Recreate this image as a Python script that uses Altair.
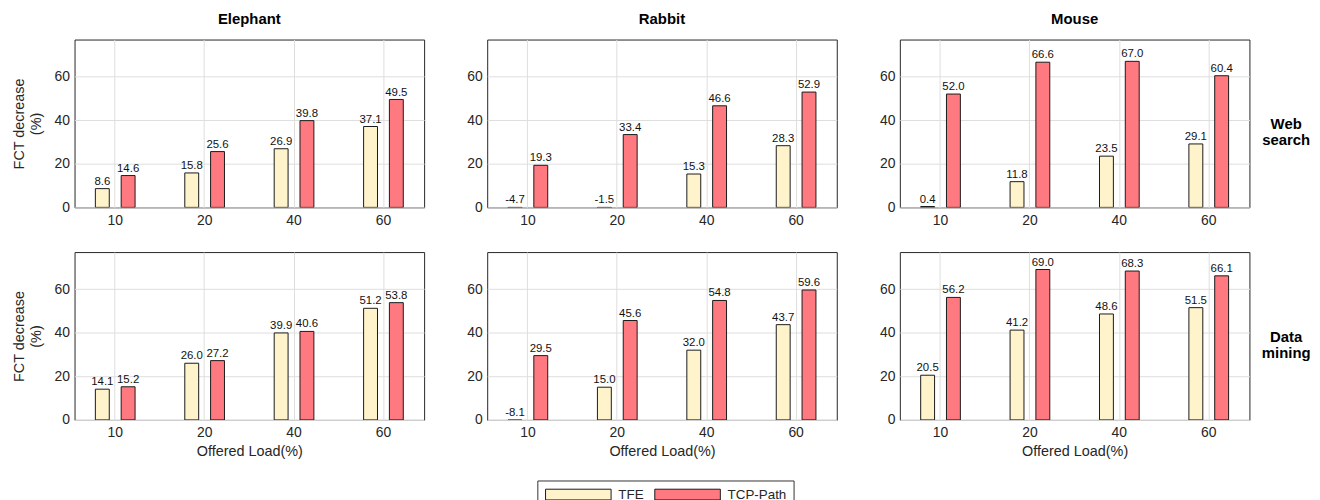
import altair as alt
import pandas as pd

datasets = ["Elephant", "Rabbit", "Mouse"]
workloads = ["Web search", "Data mining"]
loads = ["10", "20", "40", "60"]
methods = ["TFE", "TCP-Path"]

# Web search
web_tfe = {"Elephant": [8.6, 15.8, 26.9, 37.1], "Rabbit": [-4.7, -1.5, 15.3, 28.3], "Mouse": [0.4, 11.8, 23.5, 29.1]}
web_tcp = {"Elephant": [14.6, 25.6, 39.8, 49.5], "Rabbit": [19.3, 33.4, 46.6, 52.9], "Mouse": [52.0, 66.6, 67.0, 60.4]}
# Data mining
dm_tfe = {"Elephant": [14.1, 26.0, 39.9, 51.2], "Rabbit": [-8.1, 15.0, 32.0, 43.7], "Mouse": [20.5, 41.2, 48.6, 51.5]}
dm_tcp = {"Elephant": [15.2, 27.2, 40.6, 53.8], "Rabbit": [29.5, 45.6, 54.8, 59.6], "Mouse": [56.2, 69.0, 68.3, 66.1]}

colors = ["#FFF3CB", "#FF7A80"]
FONT = "Liberation Sans"
W, H = 352, 169
TXT = "#262626"

series = {"Web search": (web_tfe, web_tcp), "Data mining": (dm_tfe, dm_tcp)}


def panel(ds, wl, row, col):
    tfe, tcp = series[wl]
    rows = []
    for i, l in enumerate(loads):
        rows.append({"load": l, "method": "TFE", "value": tfe[ds][i]})
        rows.append({"load": l, "method": "TCP-Path", "value": tcp[ds][i]})
    df = pd.DataFrame(rows)
    base = alt.Chart(df).transform_calculate(
        ypos="max(datum.value, 0)",
        lab="replace(format(datum.value, '.1f'), '\u2212', '-')",
    )
    x = alt.X(
        "load:N",
        sort=loads,
        scale=alt.Scale(paddingInner=0.556, paddingOuter=0.233),
        axis=alt.Axis(
            title="Offered Load(%)" if row == 1 else None,
            labelAngle=0,
            ticks=False,
            domain=False,
            grid=True,
            bandPosition=0.5,
            labelPadding=6,
            labelFontSize=14,
            labelColor=TXT,
            titleFontSize=14.5,
            titleFontWeight="normal",
            titleColor=TXT,
            titlePadding=3,
            gridColor="#dedede",
            minExtent=22,
            maxExtent=22,
        ),
    )
    xo = alt.XOffset("method:N", sort=methods, scale=alt.Scale(domain=methods, paddingInner=0.4615, paddingOuter=0))
    yaxis = alt.Axis(
        title=["FCT decrease", "(%)"] if col == 0 else None,
        values=[0, 20, 40, 60],
        ticks=False,
        domain=False,
        labelPadding=5,
        labelFontSize=14,
        labelColor=TXT,
        titleFontSize=14.5,
        titleFontWeight="normal",
        titleColor=TXT,
        titleLineHeight=17,
        titlePadding=9,
        gridColor="#dedede",
        minExtent=22,
        maxExtent=22,
    )
    bars = base.mark_bar(stroke="#1a1a1a", strokeWidth=1, clip=True).encode(
        x=x,
        xOffset=xo,
        y=alt.Y("value:Q", scale=alt.Scale(domain=[0, 77], nice=False), axis=yaxis),
        fill=alt.Fill(
            "method:N",
            scale=alt.Scale(domain=methods, range=colors),
            legend=alt.Legend(
                title=None,
                orient="none",
                legendX=466,
                legendY=444,
                direction="horizontal",
                symbolType="M-5.5,-0.9H5.5V0.9H-5.5Z",
                symbolSize=144,
                symbolOffset=27.5,
                symbolStrokeColor="#1a1a1a",
                symbolStrokeWidth=1,
                labelFontSize=13.5,
                labelFont=FONT,
                labelColor=TXT,
                labelOffset=33.5,
                columnPadding=9,
                strokeColor="#333333",
                fillColor="white",
                padding=7,
            ),
        ),
    )
    labels = base.mark_text(baseline="bottom", dy=-2, fontSize=11.5, font=FONT, color="#111111").encode(
        x=x,
        xOffset=xo,
        y=alt.Y("ypos:Q"),
        text=alt.Text("lab:N"),
    )
    layers = [bars, labels]
    if col == 2:
        rl = alt.Chart(pd.DataFrame({"t": [wl]})).mark_text(
            fontSize=15, fontWeight="bold", font=FONT, color="black", lineBreak=" ", lineHeight=16, align="center"
        ).encode(x=alt.value(W + 37), y=alt.value(H / 2 + 1), text="t:N")
        layers.append(rl)
    ch = alt.layer(*layers).properties(width=W, height=H)
    if row == 0:
        ch = ch.properties(
            title=alt.TitleParams(ds, fontSize=15, fontWeight="bold", font=FONT, color="black", offset=13)
        )
    return ch


rows_ch = []
for r, wl in enumerate(workloads):
    rows_ch.append(alt.hconcat(*[panel(ds, wl, r, c) for c, ds in enumerate(datasets)], spacing=39.5))

chart = (
    alt.vconcat(*rows_ch, spacing=21)
    .properties(padding={"left": 3, "top": 1, "right": 0, "bottom": 5})
    .configure(font=FONT)
    .configure_view(stroke="#262626", strokeWidth=1)
)

chart.save("out.html", embed_options={"renderer": "svg", "actions": False})
